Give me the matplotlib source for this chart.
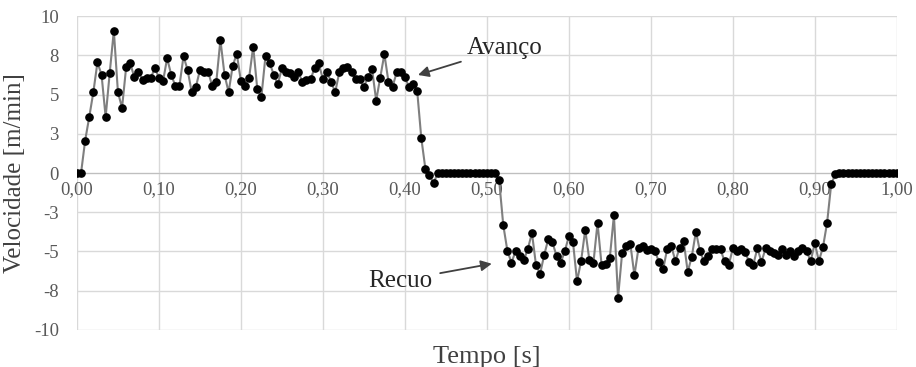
import numpy as np
import matplotlib.pyplot as plt
from matplotlib.ticker import FuncFormatter, MultipleLocator

# velocidade lida a cada 5 ms
passo = 0.005

vel_avanco = [0.0, 0.0, 2.07, 3.57, 5.15, 7.05, 6.27, 3.57, 6.4, 9.07,
              5.15, 4.16, 6.73, 7.0, 6.1, 6.43, 5.95, 6.03, 6.05, 6.7,
              6.08, 5.85, 7.32, 6.27, 5.55, 5.55, 7.45, 6.56, 5.15, 5.47,
              6.56, 6.46, 6.46, 5.55, 5.82, 8.48, 6.27, 5.15, 6.84, 7.6,
              5.85, 5.55, 6.08, 8.06, 5.34, 4.87, 7.46, 7.02, 6.28, 5.67,
              6.67, 6.46, 6.35, 6.1, 6.42, 5.82, 5.93, 5.97, 6.72, 6.99,
              5.97, 6.42, 5.82, 5.15, 6.42, 6.71, 6.77, 6.42, 5.97, 5.97,
              5.47, 6.14, 6.61, 4.62, 6.08, 7.58, 5.82, 5.5, 6.42, 6.42,
              6.1, 5.5, 5.68, 5.25, 2.24, 0.28, -0.15, -0.65]

vel_pausa = [0.0, 0.0, 0.0, 0.0, 0.0, 0.0, 0.0, 0.0, 0.0, 0.0,
             0.0, 0.0, 0.0, 0.0, 0.0]

vel_recuo = [-0.46, -3.31, -4.94, -5.72, -4.98, -5.29, -5.57, -4.83, -3.82, -5.89,
             -6.41, -5.21, -4.2, -4.41, -5.29, -5.72, -5.0, -4.03, -4.37, -6.9,
             -5.59, -3.61, -5.53, -5.72, -3.18, -5.89, -5.78, -5.4, -2.68, -7.95,
             -5.1, -4.62, -4.51, -6.52, -4.77, -4.62, -4.89, -4.83, -4.98, -5.67,
             -6.14, -4.83, -4.66, -5.61, -4.79, -4.3, -6.3, -5.32, -3.73, -5.0,
             -5.63, -5.29, -4.87, -4.87, -4.87, -5.63, -5.89, -4.79, -5.0, -4.83,
             -5.04, -5.67, -5.84, -4.79, -5.67, -4.79, -4.94, -5.08, -5.25, -4.83,
             -5.21, -4.94, -5.29, -5.0, -4.79, -5.0, -5.61, -4.47, -5.61, -4.72,
             -3.18, -0.72, -0.08]

vel_fim = [0.0, 0.0, 0.0, 0.0, 0.0, 0.0, 0.0, 0.0, 0.0, 0.0,
           0.0, 0.0, 0.0, 0.0, 0.0]

vel = np.array(vel_avanco + vel_pausa + vel_recuo + vel_fim)
tempo = np.arange(len(vel)) * passo

plt.rcParams['font.family'] = ['Liberation Serif', 'DejaVu Serif']

fig = plt.figure(figsize=(9.16, 3.67), dpi=100)
ax = fig.add_axes([0.084, 0.101, 0.895, 0.855])

ax.plot(tempo, vel, color='#7f7f7f', lw=1.5, marker='o', markersize=5.2,
        markerfacecolor='black', markeredgecolor='black', zorder=3)

ax.set_xlim(0, 1.0)
ax.set_ylim(-10, 10)
ax.xaxis.set_major_locator(MultipleLocator(0.1))
ax.yaxis.set_major_locator(MultipleLocator(2.5))
ax.grid(True, color='#d9d9d9', lw=1)
ax.set_axisbelow(True)

# eixo x cruza em zero, como no Excel
ax.spines['bottom'].set_position(('data', 0))
ax.spines['bottom'].set_color('#bfbfbf')
for s in ['top', 'right', 'left']:
    ax.spines[s].set_visible(False)
ax.tick_params(length=0, labelsize=13.5, colors='#595959', pad=6)
ax.tick_params(axis='y', pad=13)

ax.xaxis.set_major_formatter(FuncFormatter(lambda v, p: f"{v:.2f}".replace('.', ',')))
ax.yaxis.set_major_formatter(
    FuncFormatter(lambda v, p: f"{int(np.sign(v) * np.floor(abs(v) + 0.5))}"))

ax.set_ylabel('Velocidade [m/min]', fontsize=18, color='#404040', labelpad=6)
ax.text(0.5, -0.085, 'Tempo [s]', transform=ax.transAxes, ha='center', va='center',
        fontsize=19, color='#404040')

ax.annotate('Avanço', xy=(0.416, 6.25), xytext=(0.475, 7.95), fontsize=18,
            color='#262626', va='center', ha='left',
            arrowprops=dict(arrowstyle='-|>', color='#404040', lw=1.3,
                            mutation_scale=16, shrinkA=2, shrinkB=0))
ax.annotate('Recuo', xy=(0.506, -5.78), xytext=(0.433, -6.85), fontsize=18,
            color='#262626', va='center', ha='right',
            arrowprops=dict(arrowstyle='-|>', color='#404040', lw=1.3,
                            mutation_scale=16, shrinkA=4, shrinkB=0))

plt.savefig('out.png', dpi=100)
